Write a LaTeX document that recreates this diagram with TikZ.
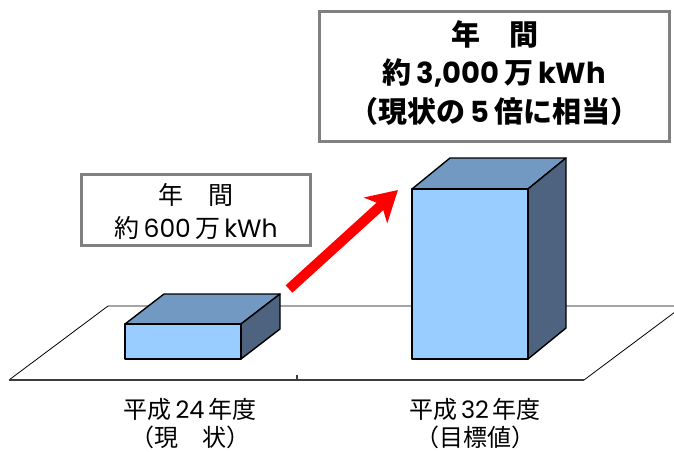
\documentclass[tikz,border=0pt]{standalone}
\usepackage{fontspec}
\setmainfont{Noto Sans CJK JP}
\newfontfamily\latf{Poppins}
\usetikzlibrary{arrows.meta}
\definecolor{frontc}{RGB}{153,204,255}
\definecolor{topc}{RGB}{114,153,194}
\definecolor{sidec}{RGB}{78,99,128}
\definecolor{framec}{RGB}{128,128,128}
\definecolor{floorc}{RGB}{60,60,60}
\tikzset{
  framebox/.style={draw=framec, line width=3pt, fill=white},
  facebox/.style={draw=black, line width=1.4pt, line join=round},
  floorline/.style={draw=black, line width=0.8pt},
  lbl/.style={align=center, inner sep=0pt, text=black},
  yearlbl/.style={inner sep=0pt, anchor=base, text=black, text height=20pt, text depth=3pt, font=\fontsize{24pt}{29pt}\selectfont},
  bigarrow/.style={draw=red, line width=10pt, -{Stealth[length=30pt, width=34pt, inset=8pt]}}
}
\begin{document}
\begin{tikzpicture}[x=1pt, y=-1pt]
\useasboundingbox (0,0) rectangle (674,452);
\fill[white] (0,0) rectangle (674,452);
% floor
\begin{scope}
\clip (0,0) rectangle (674,452);
\coordinate (fl) at (9,380);
\coordinate (fr) at (584,380);
\coordinate (bl) at (108,306);
\coordinate (br) at (683,306);
\draw[floorline] (fl) -- (bl) -- (br) -- (fr);
\draw[draw=floorc, line width=2pt] (fl) -- (fr);
\coordinate (tk) at (297,380);
\coordinate (tkt) at (297,375);
\draw[draw=floorc, line width=1.2pt] (tk) -- (tkt);
\end{scope}
% bar 1
\draw[facebox, fill=topc] (125,324) -- (164,294) -- (280,294) -- (241,324) -- cycle;
\draw[facebox, fill=sidec] (241,324) -- (280,294) -- (280,329) -- (241,359) -- cycle;
\draw[facebox, fill=frontc] (125,324) rectangle (241,359);
% bar 2
\draw[facebox, fill=topc] (412,189) -- (450,158) -- (566,158) -- (528,189) -- cycle;
\draw[facebox, fill=sidec] (528,189) -- (566,158) -- (566,328) -- (528,359) -- cycle;
\draw[facebox, fill=frontc] (412,189) rectangle (528,359);
% arrow
\coordinate (atail) at (289,289);
\coordinate (ahead) at (398,190);
\draw[bigarrow] (atail) -- (ahead);
% small box
\node[framebox, minimum width=229pt, minimum height=71pt, inner sep=0pt] (smallbox) at (196,210) {};
\node[lbl, font=\fontsize{25pt}{33pt}\selectfont] (smalltext) at (196,211)
  {年　間\\約\,{\latf 600}\,万\,{\latf kWh}};
% big box
\node[framebox, minimum width=350pt, minimum height=130pt, inner sep=0pt] (bigbox) at (494.5,76.5) {};
\node[lbl, font=\fontsize{29pt}{38.5pt}\selectfont\bfseries] (bigtext) at (494.5,73)
  {年　間\\約\,{\latf 3,000}\,万\,{\latf kWh}\\（現状の\,{\latf 5}\,倍に相当）};
% labels
\node[yearlbl] (lab1a) at (190,418) {平成\,{\latf 24}\,年度};
\node[yearlbl] (lab1b) at (190,446) {（現　状）};
\node[yearlbl] (lab2a) at (475,418) {平成\,{\latf 32}\,年度};
\node[yearlbl] (lab2b) at (475,446) {（目標値）};
\end{tikzpicture}
\end{document}
